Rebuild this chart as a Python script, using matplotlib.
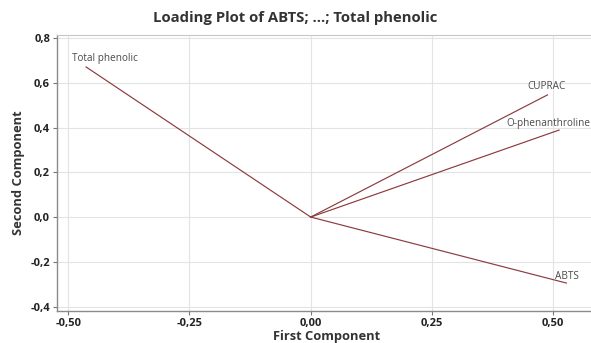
import matplotlib
matplotlib.use("Agg")
import matplotlib.pyplot as plt
from matplotlib.ticker import FuncFormatter

plt.rcParams['font.family'] = ['Open Sans', 'DejaVu Sans']

# loadings
variables = ["Total phenolic", "CUPRAC", "O-phenanthroline", "ABTS"]
first_comp = [-0.463, 0.488, 0.512, 0.527]
second_comp = [0.671, 0.546, 0.389, -0.295]

x_ticks = [-0.50, -0.25, 0.00, 0.25, 0.50]
y_ticks = [-0.4, -0.2, 0.0, 0.2, 0.4, 0.6, 0.8]

# label placement relative to the loading end point (pixels)
label_offsets = [(-14, 8), (-20, 8), (-53, 7), (-11, 7)]

line_color = "#8c3b3f"

fig = plt.figure(figsize=(5.91, 3.43), dpi=100)
ax = fig.add_axes([57/591, 1 - 311/343, 1 - 57/591 + 0.01, (311 - 35)/343])

for name, x, y, off in zip(variables, first_comp, second_comp, label_offsets):
    ax.plot([0, x], [0, y], color=line_color, lw=0.85)
    ax.annotate(name, (x, y), xytext=off, textcoords="offset pixels",
                fontsize=7.2, color="#4a4a4a", ha="left", va="center",
                annotation_clip=False)

ax.set_xlim(-0.523, 0.59)
ax.set_ylim(-0.42, 0.814)
ax.set_xticks(x_ticks)
ax.set_yticks(y_ticks)
ax.xaxis.set_major_formatter(FuncFormatter(lambda v, p: f"{v:.2f}".replace(".", ",")))
ax.yaxis.set_major_formatter(FuncFormatter(lambda v, p: f"{v:.1f}".replace(".", ",")))
for lab in ax.get_xticklabels() + ax.get_yticklabels():
    lab.set_fontweight("bold")
ax.tick_params(labelsize=8, length=3, width=0.8, color="#777777", pad=2,
               labelcolor="#222222")

ax.grid(True, color="#e3e3e3", lw=0.8)
ax.set_axisbelow(True)
for s in ["left", "bottom"]:
    ax.spines[s].set_color("#8a8a8a")
    ax.spines[s].set_linewidth(1.0)
ax.spines["top"].set_color("#c8c8c8")
ax.spines["right"].set_visible(False)

ax.set_xlabel("First Component", fontsize=9.3, fontweight="bold", color="#333333", labelpad=0.5)
ax.set_ylabel("Second Component", fontsize=9.3, fontweight="bold", color="#333333", labelpad=4)
fig.text(0.5, 1 - 18/343, "Loading Plot of ABTS; ...; Total phenolic", ha="center", va="center",
         fontsize=10.7, fontweight="bold", color="#333333")

fig.savefig("out.png", dpi=100)
